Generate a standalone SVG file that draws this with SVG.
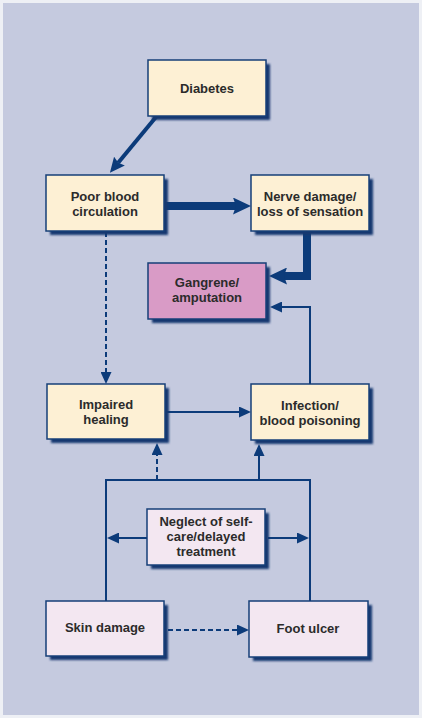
<svg xmlns="http://www.w3.org/2000/svg" width="422" height="718" viewBox="0 0 422 718">
<style>
.box{stroke:#163f78;stroke-width:1.5}
.y{fill:#fdf0d4}
.p{fill:#d99bc6}
.l{fill:#f3e7f1}
.sh{fill:#15386f;filter:url(#blur)}
text{font-family:"Liberation Sans",Arial,Helvetica,sans-serif;font-weight:bold;font-size:13px;fill:#2b2b2b;text-anchor:middle}
.c{fill:none;stroke:#0c3b7a}
.thin{stroke-width:2}
.dash{stroke-dasharray:5,3}
</style>
<defs>
<filter id="blur" x="-10%" y="-10%" width="120%" height="120%"><feGaussianBlur stdDeviation="0.8"/></filter>
<marker id="aThin" markerUnits="userSpaceOnUse" markerWidth="12" markerHeight="11" viewBox="0 0 12 11" refX="0" refY="5.5" orient="auto"><path d="M0,0 L12,5.5 L0,11 z" fill="#0c3b7a"/></marker>
<marker id="aMed" markerUnits="userSpaceOnUse" markerWidth="15" markerHeight="14" viewBox="0 0 15 14" refX="2" refY="7" orient="auto"><path d="M0,0 L15,7 L0,14 L2,7 z" fill="#0c3b7a"/></marker>
<marker id="aThick" markerUnits="userSpaceOnUse" markerWidth="18" markerHeight="17" viewBox="0 0 18 17" refX="3" refY="8.5" orient="auto"><path d="M0,0 L18,8.5 L0,17 L3,8.5 z" fill="#0c3b7a"/></marker>
</defs>
<rect x="0" y="0" width="422" height="718" fill="#eef0f5"/>
<rect x="3" y="3" width="416" height="712" fill="#c5cadf"/>

<g id="connectors">
<path class="c" stroke-width="4" d="M156,117 L118.2,162.7" marker-end="url(#aMed)"/>
<path class="c" stroke-width="8" d="M165,206 H236" marker-end="url(#aThick)"/>
<path class="c" stroke-width="8" stroke-linejoin="miter" d="M307,232 V276 H284" marker-end="url(#aThick)"/>
<path class="c thin" d="M310,384 V307 H282" marker-end="url(#aThin)"/>
<path class="c thin dash" d="M106,232 V372" marker-end="url(#aThin)"/>
<path class="c thin" d="M166,412 H239" marker-end="url(#aThin)"/>
<path class="c thin" d="M106,601 V480 H310 V601"/>
<path class="c thin dash" d="M157,480 V455" marker-end="url(#aThin)"/>
<path class="c thin" d="M259,480 V456" marker-end="url(#aThin)"/>
<path class="c thin" d="M147,538 H119" marker-end="url(#aThin)"/>
<path class="c thin" d="M268,538 H297" marker-end="url(#aThin)"/>
<path class="c thin dash" d="M168,630 H237" marker-end="url(#aThin)"/>
</g>

<g id="diabetes">
<rect class="sh" x="152" y="64" width="118" height="56"/>
<rect class="box y" x="148" y="60" width="118" height="56"/>
<text x="207" y="92.5">Diabetes</text>
</g>
<g id="poor-circulation">
<rect class="sh" x="50" y="179" width="118" height="56"/>
<rect class="box y" x="46" y="175" width="118" height="56"/>
<text x="105" y="200.5">Poor blood</text>
<text x="105" y="215.5">circulation</text>
</g>
<g id="nerve-damage">
<rect class="sh" x="255" y="179" width="118" height="56"/>
<rect class="box y" x="251" y="175" width="118" height="56"/>
<text x="310" y="200.5">Nerve damage/</text>
<text x="310" y="215.5">loss of sensation</text>
</g>
<g id="gangrene">
<rect class="sh" x="152" y="267" width="118" height="56"/>
<rect class="box p" x="148" y="263" width="118" height="56"/>
<text x="207" y="286.5">Gangrene/</text>
<text x="207" y="301.5">amputation</text>
</g>
<g id="impaired-healing">
<rect class="sh" x="51" y="388" width="118" height="55"/>
<rect class="box y" x="47" y="384" width="118" height="55"/>
<text x="106" y="409">Impaired</text>
<text x="106" y="424">healing</text>
</g>
<g id="infection">
<rect class="sh" x="255" y="388" width="118" height="56"/>
<rect class="box y" x="251" y="384" width="118" height="56"/>
<text x="310" y="409.5">Infection/</text>
<text x="310" y="424.5">blood poisoning</text>
</g>
<g id="neglect">
<rect class="sh" x="151" y="513" width="118" height="56"/>
<rect class="box l" x="147" y="509" width="118" height="56"/>
<text x="206" y="526">Neglect of self-</text>
<text x="206" y="541">care/delayed</text>
<text x="206" y="555.5">treatment</text>
</g>
<g id="skin-damage">
<rect class="sh" x="50" y="605" width="118" height="55"/>
<rect class="box l" x="46" y="601" width="118" height="55"/>
<text x="105" y="632">Skin damage</text>
</g>
<g id="foot-ulcer">
<rect class="sh" x="253" y="605" width="119" height="56"/>
<rect class="box l" x="249" y="601" width="119" height="56"/>
<text x="308" y="632.5">Foot ulcer</text>
</g>
</svg>
